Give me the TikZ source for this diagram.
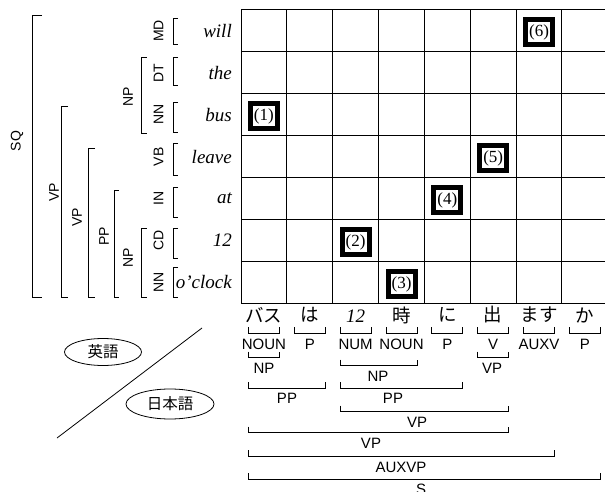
\documentclass[tikz,border=0pt]{standalone}
\usepackage{fontspec}
\setmainfont{Liberation Serif}
\setsansfont{Liberation Sans}
\newfontfamily\jpfont{Noto Sans CJK JP}
\usetikzlibrary{shapes.geometric}
\newcommand\brkv[4]{\draw[brk] (#1+#4,#2) -- (#1,#2) -- (#1,#3) -- (#1+#4,#3);}
\newcommand\brkh[3]{\draw[brk] (#1,#3-6) -- (#1,#3) -- (#2,#3) -- (#2,#3-6);}
\begin{document}
\begin{tikzpicture}[x=1pt,y=-1pt,
  grid/.style={line width=1pt},
  brk/.style={line width=0.8pt},
  word/.style={font=\fontsize{19}{19}\selectfont\itshape, anchor=east, inner sep=0pt},
  wordc/.style={font=\fontsize{19}{19}\selectfont\itshape, inner sep=0pt},
  postag/.style={font=\fontsize{14}{14}\selectfont\sffamily, rotate=90, inner sep=0pt},
  lab/.style={font=\fontsize{15}{15}\selectfont\sffamily, inner sep=0pt},
  jw/.style={font=\fontsize{18.5}{18.5}\selectfont\jpfont, inner sep=0pt},
  markbox/.style={draw, line width=5pt, minimum width=27pt, minimum height=25pt, inner sep=0pt, font=\fontsize{17}{17}\selectfont},
  oval/.style={draw, ellipse, line width=0.8pt, inner sep=0pt, font=\fontsize{15.5}{15.5}\selectfont\jpfont}]
\useasboundingbox (0,0) rectangle (605,492);
% grid
\foreach \i in {0,...,8} \draw[grid] (241+45.85*\i,10) -- (241+45.85*\i,303.3);
\foreach \j in {0,...,7} \draw[grid] (241,10+41.9*\j) -- (608,10+41.9*\j);
% English words
\node[word] (w1) at (232,31) {will};
\node[word] (w2) at (232,72.9) {the};
\node[word] (w3) at (232,114.8) {bus};
\node[word] (w4) at (232,156.7) {leave};
\node[word] (w5) at (232,198.6) {at};
\node[word] (w6) at (232,240.4) {12};
\node[word] (w7) at (232,282.3) {o’clock};
% POS tags
\node[postag] (t1) at (158.5,31) {MD};
\node[postag] (t2) at (158.5,72.9) {DT};
\node[postag] (t3) at (158.5,114.8) {NN};
\node[postag] (t4) at (158.5,156.7) {VB};
\node[postag] (t5) at (158.5,198.6) {IN};
\node[postag] (t6) at (158.5,240.4) {CD};
\node[postag] (t7) at (158.5,282.3) {NN};
% word brackets
\brkv{173}{18}{44}{5}
\brkv{173}{57}{85}{5}
\brkv{173}{102}{132}{5}
\brkv{173}{143}{175}{5}
\brkv{173}{187}{217}{5}
\brkv{173}{228}{258}{5}
\brkv{173}{267}{297}{5}
% phrase brackets
\brkv{141.7}{57}{133}{5}
\brkv{141.7}{228}{297}{5}
\brkv{114}{190}{297}{5}
\brkv{88}{148}{297}{7}
\brkv{61}{106}{297}{7}
\brkv{32}{15}{297}{10}
\node[postag] (np1) at (128,97) {NP};
\node[postag] (np2) at (128,258) {NP};
\node[postag] (pp) at (104,236) {PP};
\node[postag] (vp1) at (77,217) {VP};
\node[postag] (vp2) at (54,192) {VP};
\node[postag] (sq) at (17,141) {SQ};
% marked cells
\node[markbox] (b1) at (263.9,116) {(1)};
\node[markbox] (b2) at (355.6,242) {(2)};
\node[markbox] (b3) at (401.5,284) {(3)};
\node[markbox] (b4) at (447.3,200) {(4)};
\node[markbox] (b5) at (493.2,158) {(5)};
\node[markbox] (b6) at (539,32) {(6)};
% Japanese words
\node[jw] (j1) at (263.9,315) {バス};
\node[jw] (j2) at (309.8,315) {は};
\node[wordc] (j3) at (355.6,316) {12};
\node[jw] (j4) at (401.5,315) {時};
\node[jw] (j5) at (447.3,315) {に};
\node[jw] (j6) at (493.2,315) {出};
\node[jw] (j7) at (539,315) {ます};
\node[jw] (j8) at (584.9,315) {か};
\brkh{248.4}{279.4}{333}
\brkh{294.3}{325.3}{333}
\brkh{340.1}{371.1}{333}
\brkh{386}{417}{333}
\brkh{431.8}{462.8}{333}
\brkh{477.7}{508.7}{333}
\brkh{523.5}{554.5}{333}
\brkh{569.4}{600.4}{333}
\node[lab] (q1) at (263.9,344) {NOUN};
\node[lab] (q2) at (309.8,344) {P};
\node[lab] (q3) at (355.6,344) {NUM};
\node[lab] (q4) at (401.5,344) {NOUN};
\node[lab] (q5) at (447.3,344) {P};
\node[lab] (q6) at (493.2,344) {V};
\node[lab] (q7) at (539,344) {AUXV};
\node[lab] (q8) at (584.9,344) {P};
% Japanese phrase brackets
\brkh{248.4}{279.4}{357.7}
\node[lab] (r1) at (264,368) {NP};
\brkh{340.1}{417}{365.7}
\node[lab] (r2) at (378,376) {NP};
\brkh{477.7}{508.7}{357.7}
\node[lab] (r3) at (492,368) {VP};
\brkh{248.4}{325.3}{388}
\node[lab] (r4) at (287,398) {PP};
\brkh{340.1}{462.8}{388}
\node[lab] (r5) at (393,398) {PP};
\brkh{340.1}{508.7}{411.7}
\node[lab] (r6) at (417,422) {VP};
\brkh{248.4}{508.7}{432.7}
\node[lab] (r7) at (371,443) {VP};
\brkh{248.4}{554.5}{456}
\node[lab] (r8) at (401,467) {AUXVP};
\brkh{248.4}{600.4}{479}
\node[lab] (r9) at (421,489) {S};
% legend
\node[oval, minimum width=77pt, minimum height=27pt] (en) at (103,352) {英語};
\node[oval, minimum width=88pt, minimum height=30pt] (ja) at (170,404) {日本語};
\coordinate (d1) at (57,438);
\coordinate (d2) at (202,328);
\draw[brk] (d1) -- (d2);
\end{tikzpicture}
\end{document}
